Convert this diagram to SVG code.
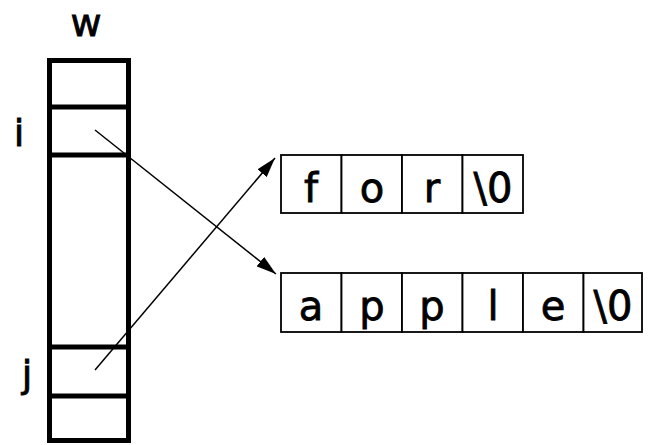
<svg xmlns="http://www.w3.org/2000/svg" width="650" height="445" viewBox="0 0 650 445">
<defs>
<marker id="ah" markerWidth="20" markerHeight="12" refX="20" refY="6" orient="auto" markerUnits="userSpaceOnUse">
<path d="M0,0 L20,6 L0,12 Z" fill="#000"/>
</marker>
<style>
.lbl{font-family:"DejaVu Sans",sans-serif;font-size:38px;fill:#000;stroke:#000;stroke-width:0.8;text-anchor:middle}
.ch{font-family:"DejaVu Sans",sans-serif;font-size:40px;fill:#000;stroke:#000;stroke-width:0.8;text-anchor:middle}
.cell{fill:#fff;stroke:#000;stroke-width:1.8}
.thick{fill:none;stroke:#000;stroke-width:5}
.conn{stroke:#000;stroke-width:1.5;fill:none;marker-end:url(#ah)}
</style>
</defs>
<rect width="650" height="445" fill="#fff"/>
<g id="w">
<text class="lbl" x="86" y="36">w</text>
<rect class="thick" x="49.5" y="60.5" width="79" height="380"/>
<line class="thick" x1="49.5" y1="107" x2="128.5" y2="107"/>
<line class="thick" x1="49.5" y1="155" x2="128.5" y2="155"/>
<line class="thick" x1="49.5" y1="347" x2="128.5" y2="347"/>
<line class="thick" x1="49.5" y1="396" x2="128.5" y2="396"/>
<text class="lbl" x="19" y="146">i</text>
<text class="lbl" x="27" y="387">j</text>
</g>
<g id="for">
<rect class="cell" x="281" y="155" width="60.5" height="58"/>
<rect class="cell" x="341.5" y="155" width="60.5" height="58"/>
<rect class="cell" x="402" y="155" width="60.5" height="58"/>
<rect class="cell" x="462.5" y="155" width="60.5" height="58"/>
<text class="ch" x="311" y="202">f</text>
<text class="ch" x="372" y="202">o</text>
<text class="ch" x="432" y="202">r</text>
<text class="ch" x="493" y="202">\0</text>
</g>
<g id="apple">
<rect class="cell" x="281" y="273" width="60.5" height="59"/>
<rect class="cell" x="341.5" y="273" width="60.5" height="59"/>
<rect class="cell" x="402" y="273" width="60.5" height="59"/>
<rect class="cell" x="462.5" y="273" width="60.5" height="59"/>
<rect class="cell" x="523" y="273" width="60.5" height="59"/>
<rect class="cell" x="583.5" y="273" width="58.5" height="59"/>
<text class="ch" x="311" y="320">a</text>
<text class="ch" x="372" y="320">p</text>
<text class="ch" x="432" y="320">p</text>
<text class="ch" x="493" y="320">l</text>
<text class="ch" x="553" y="320">e</text>
<text class="ch" x="613" y="320">\0</text>
</g>
<g id="connectors">
<line class="conn" x1="95" y1="130" x2="276" y2="274"/>
<line class="conn" x1="95" y1="370" x2="275" y2="158"/>
</g>
</svg>
